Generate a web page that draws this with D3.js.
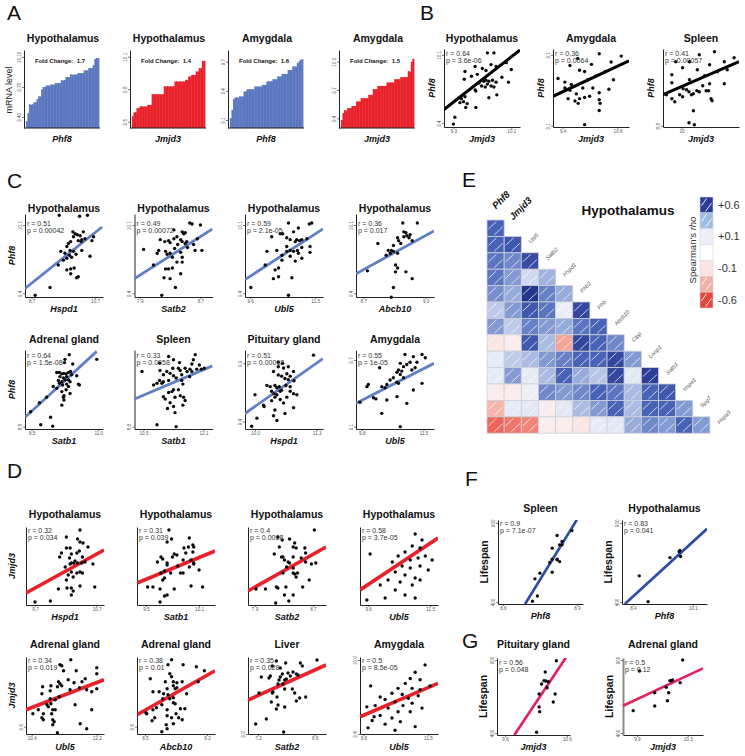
<!DOCTYPE html>
<html><head><meta charset="utf-8">
<script src="https://cdn.jsdelivr.net/npm/d3@7"></script>
<style>body{margin:0;background:#fff}svg{display:block}</style>
</head><body>
<script>
// ---------------- DATA ----------------
// Panel A: sorted mRNA levels
const aTitles = ["Hypothalamus","Hypothalamus","Amygdala","Amygdala"];
const aGenes = ["Phf8","Jmjd3","Phf8","Jmjd3"];
const aFold = ["1.7","1.4","1.6","1.5"];
const aTicks = [["9.40","9.75","10.10"],["9.5","9.8","10.1"],["9.1","9.4","9.7"],["9.4","9.7","10.0"]];
const aDomains = [[9.27,10.18],[9.442,10.162],[9.018,9.82],[9.297,10.124]];
const aPhf8Hyp = [9.345,9.443,9.54,9.54,9.54,9.567,9.567,9.607,9.637,9.637,9.715,9.747,9.747,9.762,9.762,9.762,9.773,9.773,9.773,9.793,9.793,9.793,9.793,9.824,9.824,9.824,9.863,9.863,9.863,9.89,9.89,9.89,9.89,9.89,9.91,9.91,9.91,9.91,9.94,9.94,9.94,9.968,9.968,9.968,9.995,10.073,10.085,10.085];
const aJmjd3Hyp = [9.546,9.583,9.583,9.624,9.624,9.638,9.638,9.638,9.638,9.638,9.654,9.654,9.654,9.753,9.753,9.753,9.753,9.753,9.753,9.753,9.753,9.823,9.823,9.823,9.823,9.823,9.823,9.823,9.869,9.869,9.869,9.869,9.869,9.869,9.869,9.885,9.885,9.915,9.915,9.931,9.931,9.931,9.962,9.962,9.993,9.993,10.06,10.06];
const aPhf8Amy = [9.117,9.203,9.313,9.329,9.329,9.329,9.34,9.34,9.34,9.391,9.391,9.416,9.416,9.416,9.416,9.416,9.442,9.442,9.442,9.442,9.442,9.46,9.46,9.46,9.494,9.494,9.494,9.494,9.518,9.518,9.518,9.545,9.545,9.545,9.573,9.573,9.573,9.573,9.614,9.614,9.614,9.648,9.648,9.648,9.683,9.7,9.717,9.724];
const aJmjd3Amy = [9.38,9.453,9.481,9.481,9.506,9.506,9.506,9.53,9.53,9.53,9.576,9.576,9.576,9.612,9.612,9.612,9.612,9.612,9.647,9.647,9.647,9.707,9.707,9.707,9.742,9.742,9.742,9.742,9.742,9.742,9.777,9.777,9.777,9.777,9.777,9.813,9.813,9.813,9.813,9.835,9.835,9.835,9.835,9.835,9.894,9.894,9.997,10.029];

// Panel B: Phf8 vs Jmjd3
const bHyp = [[9.77,10.12],[9.86,10.12],[9.46,9.93],[9.6,9.98],[9.7,9.96],[9.75,9.94],[9.82,10.0],[9.89,9.98],[9.45,9.85],[9.55,9.88],[9.63,9.9],[9.75,9.84],[9.79,9.83],[9.84,9.84],[9.69,9.78],[9.74,9.77],[9.82,9.78],[9.86,9.77],[9.6,9.74],[9.46,9.67],[9.41,9.65],[9.44,9.62],[9.39,9.61],[9.49,9.6],[9.61,9.56],[9.79,9.66],[9.47,9.56],[9.32,9.46],[9.3,9.39],[9.65,9.81],[9.72,9.83],[9.77,9.8],[9.89,9.82],[9.61,9.73],[10.03,10.02],[10.1,9.95],[9.97,9.87],[9.9,9.69],[10.06,9.82]];
const bAmy = [[9.45,9.42],[9.56,9.4],[9.7,9.37],[9.77,9.33],[9.88,9.34],[9.52,9.33],[9.67,9.31],[9.74,9.29],[9.84,9.42],[9.99,9.35],[10.06,9.42],[10.2,9.32],[10.22,9.29],[10.2,9.23],[9.88,9.11],[10.41,9.41],[9.45,9.47],[9.59,9.45],[10.2,9.38],[9.3,9.5],[9.95,9.49],[10.12,9.52],[10.33,9.56],[10.51,9.49],[9.77,9.57],[10.03,9.62],[10.2,9.71],[9.73,9.67],[10.46,9.64],[10.68,9.69],[9.56,9.61],[9.88,9.56]];
const bSpl = [[9.8,9.07],[9.86,9.04],[9.96,9.11],[10.02,9.09],[10.1,9.16],[10.15,9.14],[10.2,9.11],[10.24,9.12],[10.31,9.15],[10.36,9.14],[10.5,9.15],[10.55,9.15],[10.6,9.07],[10.62,9.05],[10.24,8.95],[10.15,8.83],[10.26,8.81],[9.69,9.11],[10.03,9.17],[9.8,9.23],[10.16,9.26],[10.57,9.22],[10.87,9.22],[10.43,9.2],[10.36,9.51],[10.67,9.54],[10.16,9.44],[10.57,9.41],[10.87,9.44],[11.07,9.48],[10.32,9.36],[10.73,9.34],[10.02,9.38],[9.8,9.31],[10.47,9.3],[10.93,9.36],[9.88,9.44]];
const bFits = [[[9.17,9.54],[10.22,10.15]],[[9.19,9.35],[10.85,9.65]],[[9.62,9.11],[11.17,9.44]]];
const bStats = [["r = 0.64","p = 3.6e-06"],["r = 0.36","p = 0.0064"],["r = 0.41","p = 0.00057"]];
const bTitles = ["Hypothalamus","Amygdala","Spleen"];

// Panel C: Phf8 vs target genes
const cHypHspd1 = [[9.57,10.2],[10.21,10.19],[10.46,10.2],[10.0,10.03],[10.07,10.01],[10.14,10.0],[10.23,9.99],[10.33,10.03],[10.28,9.95],[10.17,9.94],[9.93,9.93],[9.86,9.91],[10.6,9.94],[10.65,9.98],[9.81,9.88],[9.91,9.84],[9.62,9.83],[9.75,9.81],[9.89,9.79],[10.02,9.83],[10.1,9.8],[10.28,9.84],[10.54,9.78],[9.96,9.77],[9.81,9.76],[9.7,9.74],[9.54,9.69],[9.81,9.64],[9.93,9.65],[10.04,9.66],[9.93,9.6],[10.12,9.56],[10.17,9.57],[9.28,9.46],[8.81,9.38],[10.26,9.93],[10.02,9.98],[10.38,9.96]];
const cHypSatb2 = [[8.56,10.12],[8.59,10.11],[8.7,10.1],[8.35,10.05],[8.46,10.03],[8.48,10.01],[8.5,10.02],[8.39,9.98],[8.35,9.96],[8.44,9.95],[8.28,9.94],[8.17,9.95],[8.23,9.93],[8.3,9.92],[8.46,9.93],[8.5,9.91],[8.52,9.93],[8.66,9.96],[8.61,9.9],[8.53,9.87],[8.4,9.9],[8.36,9.86],[8.24,9.83],[8.15,9.84],[8.13,9.81],[8.26,9.8],[8.3,9.81],[8.44,9.82],[8.33,9.77],[8.46,9.77],[8.46,9.72],[8.39,9.72],[8.63,9.84],[8.72,9.84],[7.95,9.85],[8.08,9.69],[8.24,9.65],[8.28,9.65],[8.33,9.66],[8.44,9.6],[8.22,9.56],[8.3,9.55],[8.37,9.46],[8.19,9.38]];
const cHypUbl5 = [[10.72,10.12],[11.33,10.11],[11.4,10.12],[11.01,10.07],[10.87,10.03],[10.55,10.01],[10.48,10.01],[10.23,9.98],[10.67,9.97],[10.77,9.95],[10.96,9.95],[11.04,9.94],[10.92,9.93],[11.11,9.95],[11.26,9.96],[11.35,9.88],[11.11,9.87],[10.98,9.84],[10.87,9.83],[10.77,9.84],[10.67,9.83],[10.53,9.79],[10.38,9.84],[10.09,9.83],[10.53,9.74],[10.92,9.73],[11.11,9.76],[11.35,9.82],[10.43,9.66],[10.33,9.64],[10.04,9.69],[10.28,9.55],[10.43,9.57],[10.82,9.56],[10.72,9.38],[9.62,9.46],[10.67,9.88],[10.77,9.78],[11.01,9.81]];
const cHypAbcb10 = [[9.08,10.12],[9.22,10.12],[9.09,10.03],[9.11,10.02],[9.03,9.97],[9.04,9.94],[9.09,9.98],[9.12,9.99],[9.14,9.97],[9.17,9.94],[9.06,9.91],[8.99,9.89],[8.97,9.84],[8.94,9.84],[8.96,9.81],[8.99,9.83],[9.03,9.81],[8.92,9.79],[9.01,9.69],[9.03,9.66],[9.01,9.62],[9.11,9.62],[9.17,9.55],[8.99,9.46],[8.97,9.36],[9.15,10.0],[8.74,9.63],[8.84,9.91]];
const cAdrSatb1 = [[9.91,10.34],[10.94,10.24],[9.75,10.24],[10.04,10.14],[9.73,10.17],[9.44,9.96],[9.54,9.96],[9.63,9.93],[9.71,9.94],[9.79,9.93],[9.88,9.96],[9.96,9.98],[9.56,9.87],[9.69,9.84],[9.81,9.87],[10.0,9.91],[10.19,9.89],[9.5,9.79],[9.63,9.76],[9.75,9.8],[9.88,9.8],[9.94,9.76],[9.54,9.73],[9.66,9.69],[9.81,9.71],[10.25,9.71],[10.29,9.69],[9.31,9.66],[9.44,9.62],[9.88,9.66],[9.79,9.59],[9.63,9.55],[9.94,9.51],[9.71,9.46],[9.06,9.43],[9.71,9.37],[9.63,9.26],[8.79,9.31],[8.46,9.12],[9.21,9.0],[8.84,8.84],[9.29,8.81],[9.69,9.43]];
const cSplSatb1 = [[11.17,10.3],[11.3,10.23],[11.88,10.34],[11.83,10.23],[10.93,10.16],[11.46,10.17],[11.61,10.05],[11.74,10.03],[11.99,10.12],[11.79,10.14],[11.43,10.05],[11.48,10.0],[11.28,10.05],[11.12,9.98],[10.94,10.0],[11.03,9.91],[11.21,9.94],[11.3,9.89],[11.52,9.91],[11.66,9.98],[11.79,9.98],[12.04,10.03],[12.12,10.05],[11.92,10.03],[11.73,9.87],[10.93,9.79],[11.03,9.76],[10.99,9.73],[10.86,9.73],[11.17,9.79],[11.37,9.84],[11.52,9.79],[11.55,9.71],[11.3,9.59],[11.43,9.59],[11.17,9.53],[11.26,9.55],[11.03,9.44],[11.08,9.39],[11.34,9.43],[11.48,9.46],[11.57,9.43],[11.61,9.36],[11.21,9.31],[11.3,9.23],[11.55,9.26],[11.14,9.19],[11.34,9.1],[10.86,8.84],[11.37,8.8],[10.77,9.69],[10.46,9.98]];
const cPitHspd1 = [[11.23,9.97],[10.49,9.91],[10.58,9.9],[10.49,9.87],[10.6,9.86],[10.7,9.87],[10.81,9.83],[10.39,9.83],[10.67,9.81],[10.49,9.8],[10.56,9.79],[10.63,9.77],[10.74,9.79],[10.7,9.76],[10.82,9.75],[10.65,9.71],[10.25,9.71],[10.32,9.7],[10.42,9.71],[10.46,9.69],[10.51,9.7],[10.74,9.7],[10.56,9.67],[10.81,9.64],[10.88,9.63],[10.53,9.66],[10.35,9.66],[10.4,9.64],[10.46,9.63],[10.42,9.61],[10.74,9.66],[10.67,9.61],[10.53,9.59],[10.0,9.63],[10.18,9.54],[10.19,9.53],[10.81,9.52],[10.42,9.5],[10.63,9.47],[10.39,9.45],[10.46,9.41],[10.04,9.43],[9.93,9.36],[10.6,9.56],[10.35,9.58]];
const cAmyUbl5 = [[11.46,9.75],[11.55,9.72],[11.22,9.73],[10.99,9.75],[11.32,9.68],[11.13,9.68],[10.86,9.67],[11.04,9.66],[10.95,9.64],[11.18,9.61],[11.27,9.63],[10.9,9.6],[10.81,9.61],[10.77,9.59],[10.86,9.57],[10.67,9.54],[10.58,9.52],[10.77,9.5],[10.81,9.49],[10.95,9.54],[10.49,9.48],[10.35,9.46],[10.44,9.45],[11.22,9.43],[11.46,9.49],[10.77,9.37],[10.49,9.34],[11.04,9.31],[10.35,9.22],[10.86,9.1],[9.98,9.48],[9.94,9.46],[9.75,9.32],[10.29,9.63],[10.12,9.36],[10.19,9.35]];
const cTitles = ["Hypothalamus","Hypothalamus","Hypothalamus","Hypothalamus","Adrenal gland","Spleen","Pituitary gland","Amygdala"];
const cXLabels = ["Hspd1","Satb2","Ubl5","Abcb10","Satb1","Satb1","Hspd1","Ubl5"];
const cStats = [["r = 0.51","p = 0.00042"],["r = 0.49","p = 0.00072"],["r = 0.59","p = 2.1e-05"],["r = 0.36","p = 0.017"],["r = 0.64","p = 1.5e-08"],["r = 0.33","p = 0.0058"],["r = 0.51","p = 0.00018"],["r = 0.55","p = 1e-05"]];
const cFits = [[[8.49,9.45],[10.92,10.08]],[[7.83,9.55],[8.86,10.06]],[[9.45,9.54],[11.73,10.06]],[[8.63,9.6],[9.38,10.04]],[[8.25,9.0],[10.94,10.41]],[[10.26,9.39],[12.34,10.1]],[[9.79,9.47],[11.43,9.94]],[[9.64,9.31],[11.79,9.67]]];
const cXDomains = [[8.49,10.95],[7.83,8.86],[9.45,11.73],[8.63,9.38],[8.25,11.175],[10.26,12.34],[9.79,11.43],[9.64,11.79]];
const cYDomains = [[9.362,10.213],[9.362,10.213],[9.362,10.213],[9.362,10.213],[8.75,10.44],[8.75,10.44],[9.337,10.014],[9.079,9.79]];
const cXTicks = [["8.7","10.7"],["7.9","8.7"],["9.6","11.5"],["8.7","9.3"],["8.5","11.0"],["10.5","12.1"],["10.0","11.3"],["9.8","11.5"]];
const cYTicks = [["9.4","10.1"],["9.4","10.1"],["9.4","10.1"],["9.4","10.1"],["8.8"],["8.8"],["9.4","9.9"],["9.1","9.7"]];

// Panel D: Jmjd3 vs target genes
const dHypHspd1 = [[10.43,10.05],[10.21,9.98],[10.39,9.96],[10.43,9.93],[10.21,9.87],[10.27,9.87],[10.13,9.82],[10.1,9.78],[10.29,9.81],[10.56,9.88],[10.26,9.77],[10.38,9.82],[10.47,9.78],[10.35,9.74],[10.29,9.72],[10.27,9.71],[10.33,9.72],[10.39,9.72],[10.46,9.72],[10.51,9.73],[10.64,9.71],[10.19,9.68],[10.29,9.63],[10.38,9.62],[10.43,9.63],[10.47,9.62],[10.24,9.6],[10.32,9.58],[10.21,9.55],[10.08,9.46],[10.43,9.49],[10.22,9.47],[10.29,9.47],[10.32,9.44],[10.67,9.48],[10.29,9.4],[9.7,9.33],[9.95,9.34],[10.42,9.84],[10.48,9.92]];
const dHypSatb1 = [[9.76,10.05],[9.79,9.96],[9.74,9.93],[9.99,9.97],[9.93,9.87],[9.98,9.88],[10.03,9.9],[10.04,9.88],[9.95,9.82],[9.82,9.81],[9.8,9.78],[9.67,9.78],[9.69,9.76],[9.63,9.73],[9.74,9.72],[9.74,9.7],[9.92,9.75],[10.01,9.75],[10.04,9.72],[10.04,9.71],[9.99,9.68],[9.86,9.69],[10.1,9.65],[9.71,9.64],[9.67,9.62],[9.78,9.62],[9.89,9.62],[9.92,9.62],[9.71,9.57],[9.69,9.55],[9.52,9.48],[9.58,9.48],[9.66,9.46],[9.82,9.46],[10.01,9.49],[10.14,9.48],[9.74,9.4],[9.71,9.39],[9.66,9.33],[9.85,9.8],[10.03,9.83]];
const dHypSatb2 = [[8.72,10.05],[8.22,9.98],[8.28,9.95],[8.38,9.96],[8.45,9.92],[8.43,9.88],[8.47,9.87],[8.59,9.87],[8.6,9.82],[8.24,9.88],[8.17,9.81],[8.27,9.78],[8.29,9.78],[8.31,9.75],[8.36,9.73],[8.43,9.78],[8.54,9.77],[8.6,9.73],[8.68,9.71],[8.74,9.72],[8.38,9.72],[8.34,9.68],[8.43,9.62],[8.45,9.61],[8.49,9.62],[8.47,9.58],[8.29,9.62],[8.2,9.48],[8.22,9.47],[8.33,9.48],[8.56,9.48],[8.65,9.55],[7.92,9.46],[8.05,9.46],[8.19,9.32],[8.31,9.4],[8.43,9.4],[8.37,9.34],[8.43,9.67]];
const dHypUbl5 = [[11.04,10.01],[10.95,9.89],[11.19,9.87],[10.73,9.83],[10.52,9.79],[10.89,9.75],[11.13,9.77],[11.35,9.79],[10.34,9.73],[10.64,9.69],[10.89,9.67],[11.19,9.69],[11.44,9.65],[10.43,9.63],[10.73,9.6],[11.04,9.57],[10.21,9.55],[10.58,9.53],[10.95,9.5],[11.19,9.55],[9.97,9.5],[10.43,9.45],[10.73,9.4],[10.12,9.37],[11.04,9.37],[9.66,9.81],[9.56,9.35],[11.25,9.95],[11.56,9.75]];
const dAdrUbl5 = [[11.48,10.27],[11.18,10.22],[11.23,10.21],[11.28,10.16],[12.2,10.19],[12.2,10.13],[11.63,10.16],[11.88,10.08],[11.79,10.05],[11.57,10.04],[11.41,10.07],[11.14,10.05],[11.18,10.03],[11.23,10.01],[11.11,10.0],[10.93,10.01],[10.7,10.0],[10.68,9.93],[10.91,9.96],[11.46,9.97],[11.72,9.99],[11.92,9.97],[12.2,9.98],[12.06,9.95],[11.16,9.9],[10.91,9.88],[11.05,9.87],[10.82,9.82],[10.86,9.8],[10.93,9.83],[10.58,9.77],[10.98,9.77],[11.05,9.77],[10.43,9.73],[10.72,9.73],[10.95,9.73],[11.6,9.82],[12.06,9.77],[10.68,9.69],[10.72,9.67],[10.98,9.67],[11.02,9.65],[10.98,9.62],[11.74,9.63],[11.92,9.58],[11.11,9.54]];
const dAdrAbcb10 = [[8.8,10.27],[8.76,10.22],[8.93,10.22],[9.08,10.2],[9.17,10.16],[8.56,10.08],[8.78,10.13],[8.8,10.1],[8.73,10.05],[8.82,10.05],[8.86,10.04],[8.92,10.05],[8.82,10.01],[8.84,9.98],[8.86,9.99],[8.75,9.98],[8.59,9.95],[8.66,9.95],[8.7,9.88],[8.76,9.92],[8.78,9.88],[8.82,9.89],[8.97,9.93],[9.1,10.05],[8.69,9.82],[8.63,9.79],[8.59,9.77],[8.75,9.77],[8.82,9.84],[8.84,9.83],[8.9,9.78],[8.95,9.78],[8.51,9.74],[8.52,9.73],[8.61,9.69],[8.58,9.66],[8.75,9.71],[8.85,9.73],[8.8,9.69],[8.88,9.69],[8.92,9.67],[8.82,9.63],[8.74,9.62],[8.69,9.55],[8.75,9.58],[8.71,9.93]];
const dLivSatb2 = [[8.97,9.94],[7.75,9.93],[8.03,9.91],[8.47,9.91],[8.53,9.88],[7.63,9.88],[7.87,9.86],[7.93,9.8],[8.1,9.81],[8.17,9.78],[8.25,9.82],[8.35,9.8],[8.4,9.79],[7.57,9.78],[7.53,9.76],[7.3,9.77],[7.83,9.74],[8.0,9.74],[8.05,9.75],[7.8,9.7],[7.95,9.7],[8.23,9.65],[8.0,9.65],[7.65,9.62],[7.63,9.61],[7.23,9.61],[8.3,9.61],[7.77,9.57],[8.45,9.56],[8.35,9.53],[8.63,9.57],[7.6,9.52],[7.8,9.49],[8.0,9.47],[7.75,9.45],[7.45,9.35],[7.13,9.3],[7.97,9.22],[7.87,9.77]];
const dAmyUbl5 = [[11.42,9.96],[11.16,9.9],[11.29,9.84],[11.03,9.85],[10.9,9.81],[10.71,9.77],[11.08,9.77],[11.29,9.76],[11.55,9.79],[10.55,9.73],[10.82,9.72],[10.98,9.69],[11.24,9.71],[10.37,9.68],[10.63,9.66],[10.84,9.63],[11.08,9.65],[10.11,9.63],[10.45,9.61],[10.71,9.58],[10.24,9.55],[10.55,9.53],[10.03,9.51],[10.37,9.48],[10.77,9.5],[11.03,9.58],[9.92,9.45],[10.63,9.43],[11.16,9.46],[11.34,9.61],[9.99,9.79],[9.89,9.62],[10.08,9.54],[10.24,9.7]];
const dTitles = ["Hypothalamus","Hypothalamus","Hypothalamus","Hypothalamus","Adrenal gland","Adrenal gland","Liver","Amygdala"];
const dXLabels = ["Hspd1","Satb1","Satb2","Ubl5","Ubl5","Abcb10","Satb2","Ubl5"];
const dStats = [["r = 0.32","p = 0.034"],["r = 0.31","p = 0.039"],["r = 0.4","p = 0.0068"],["r = 0.58","p = 3.7e-05"],["r = 0.34","p = 0.019"],["r = 0.38","p = 0.01"],["r = 0.35","p = 0.028"],["r = 0.5","p = 8.5e-05"]];
const dFits = [[[9.554,9.42],[10.82,9.85]],[[9.40,9.52],[10.28,9.84]],[[7.81,9.44],[8.88,9.88]],[[9.35,9.45],[11.74,9.97]],[[10.24,9.77],[12.4,10.07]],[[8.41,9.72],[9.29,10.16]],[[6.9,9.54],[9.24,9.89]],[[9.71,9.54],[11.76,9.81]]];
const dXDomains = [[9.554,10.82],[9.40,10.28],[7.81,8.88],[9.35,11.74],[10.24,12.4],[8.41,9.29],[6.9,9.24],[9.71,11.76]];
const dYDomains = [[9.3,10.08],[9.3,10.08],[9.3,10.08],[9.3,10.08],[9.527,10.297],[9.527,10.297],[9.2,9.97],[9.4,10.024]];
const dXTicks = [["9.7","10.7"],["9.5","10.1"],["7.9","8.7"],["9.6","11.5"],["10.4","12.2"],["8.5","9.2"],["7.2","8.9"],["9.8","11.5"]];
const dYTicks = [[],[],[],[],["9.6"],["9.6"],["9.2"],["9.4","10.0"]];

// Panel E: Spearman's rho (lower triangle)
const genes = ["Phf8","Jmjd3","Ubl5","Satb2","Hspd1","Phb2","Phb","Abcb10","Clpp","Lonp1","Satb1","Hspe1","Spg7","Hspa9"];
const rho = [
 [0.5],
 [0.5,0.55],
 [0.45,0.4,0.6],
 [0.45,0.35,0.15,0.28],
 [0.38,0.3,0.72,0.42,0.3],
 [0.2,0.35,0.55,0.45,0.06,0.62],
 [0.35,0.2,0.42,0.35,0.3,0.45,0.5],
 [-0.08,-0.05,0.55,0.25,-0.3,0.62,0.5,0.4],
 [0.08,0.2,0.25,0.35,0.42,0.5,0.5,0.62,0.35],
 [0.08,0.35,0.08,0.25,0.5,0.3,0.22,0.62,0.1,0.66],
 [-0.05,-0.05,0.05,0.4,0.35,0.4,0.5,0.45,0.25,0.5,0.55],
 [-0.25,0.08,0.1,-0.05,0.1,0.25,0.35,0.5,0.25,0.5,0.5,0.35],
 [-0.5,-0.45,-0.4,-0.05,-0.05,-0.08,0.08,0.1,0.3,0.4,0.35,0.5,0.35]
];
const legendVals = [0.6,0.35,0.1,0,-0.1,-0.35,-0.6];
const legendLabels = [["+0.6",0],["+0.1",2],["-0.1",4],["-0.6",6]];

// Panels F, G: lifespan
const fSpl = [[8.72,404],[8.74,438],[8.73,546],[8.75,582],[8.79,649],[8.8,670],[8.8,588],[8.8,740],[8.82,820],[8.82,670],[8.82,666],[8.83,655],[8.83,761],[8.84,782],[8.84,761],[8.88,851]];
const fHyp = [[8.58,565],[8.83,402],[9.45,680],[9.71,718],[9.73,725],[9.75,687]];
const gPit = [[10.43,895],[10.25,818],[10.26,756],[10.3,751],[10.19,736],[10.23,758],[10.28,710],[10.15,667],[10.41,667],[10.38,612],[10.15,578],[10.16,546],[10.11,405]];
const gAdr = [[9.87,553],[9.92,825],[10.04,676],[10.04,585],[10.13,713],[10.14,621],[10.15,676],[10.16,758],[10.17,758],[10.18,763],[10.24,745],[10.26,900]];
const fgTitles = ["Spleen","Hypothalamus","Pituitary gland","Adrenal gland"];
const fgXLabels = ["Phf8","Phf8","Jmjd3","Jmjd3"];
const fgStats = [["r = 0.9","p = 7.1e-07"],["r = 0.83","p = 0.041"],["r = 0.56","p = 0.048"],["r = 0.5","p = 0.12"]];
const fgFits = [[[8.69,387],[8.9,919]],[[8.17,387],[10.5,862]],[[9.75,386],[10.6,927]],[[9.79,587],[10.42,843]]];
const fgXDomains = [[8.58,8.925],[8.09,10.5],[9.47,10.65],[9.79,10.42]];
const fgYDomains = [[387,918],[387,918],[386,914],[386,914]];
const fgXTicks = [["8.6","8.9"],["8.4","10.1"],["9.6","10.6"],["9.9","10.3"]];
const fgYTicks = [["400","900"],["400","900"],["400","900"],["400","900"]];

// ---------------- DRAW ----------------
const FONT = '"Liberation Sans", Arial, Helvetica, sans-serif';
const svg = d3.select("body").append("svg").attr("width",745).attr("height",756)
  .style("font-family",FONT);
let cid = 0;

function txt(x,y,s,o){
  o = o || {};
  const t = svg.append("text").attr("x",x).attr("y",y).text(s)
    .attr("font-size",o.fs||10).attr("fill",o.fill||"#111")
    .attr("text-anchor",o.anchor||"start");
  if(o.bold) t.attr("font-weight","bold");
  if(o.italic) t.attr("font-style","italic");
  if(o.rot!==undefined) t.attr("transform",`rotate(${o.rot},${x},${y})`);
  if(o.pre) t.style("white-space","pre");
  return t;
}
function styleAxis(g){
  g.attr("font-family",FONT).attr("font-size",4.6);
  g.select(".domain").attr("stroke","#222").attr("stroke-width",1);
  g.selectAll(".tick line").attr("stroke","#222").attr("stroke-width",0.6);
  g.selectAll(".tick text").attr("fill","#555");
}
function fmt(list){ return d => list.find(s => +s === d); }
function yAxis(g, y, l, ticks){
  const ay = g.append("g").attr("transform",`translate(${l},0)`)
    .call(d3.axisLeft(y).tickValues(ticks.map(Number)).tickFormat(fmt(ticks)).tickSize(2).tickSizeOuter(0));
  styleAxis(ay);
  ay.selectAll(".tick text").attr("transform","rotate(-90)").attr("x",0).attr("y",-3.5).attr("dy",0).attr("text-anchor","middle");
  return ay;
}

// Panel letters
[["A",7,20],["B",420,20],["C",7,188],["D",7,478],["E",462,187],["F",465,486],["G",462,648]]
  .forEach(d => txt(d[1],d[2],d[0],{fs:21}));

// ---- Panel A ----
const aLefts = [24,130,228,339];
const aVals = [aPhf8Hyp,aJmjd3Hyp,aPhf8Amy,aJmjd3Amy];
const aColors = ["#5b77bf","#e8212a","#5b77bf","#e8212a"];
aVals.forEach((vals,i) => {
  const l = aLefts[i], t = 50, h = 78, w = 76;
  const g = svg.append("g");
  const x = d3.scaleBand().domain(d3.range(vals.length)).range([l+2, l+w-1]);
  const y = d3.scaleLinear().domain(aDomains[i]).range([t+h, t]);
  g.selectAll("rect").data(vals).join("rect")
    .attr("x",(d,j)=>x(j)).attr("width",x.bandwidth()+0.25)
    .attr("y",d=>y(d)).attr("height",d=>y(aDomains[i][0])-y(d))
    .attr("fill",aColors[i]).attr("stroke",aColors[i]).attr("stroke-width",0.2);
  yAxis(g, y, l, aTicks[i]);
  g.append("line").attr("x1",l).attr("x2",l+w).attr("y1",y(aDomains[i][0])).attr("y2",y(aDomains[i][0]))
    .attr("stroke","#222").attr("stroke-width",1);
  txt(l+39, 41.5, aTitles[i], {fs:10.5, bold:true, anchor:"middle"});
  txt(l+38, 141.5, aGenes[i], {fs:9, bold:true, italic:true, anchor:"middle"});
  txt(l+11, 63, "Fold Change:  " + aFold[i], {fs:6, bold:true, pre:true});
});
txt(12, 90, "mRNA level", {fs:9, anchor:"middle", rot:-90, fill:"#222"});

// ---- Scatter helper ----
function scatter(p){
  const g = svg.append("g");
  const x = d3.scaleLinear().domain(p.xd).range([p.l, p.l+p.w]);
  const y = d3.scaleLinear().domain(p.yd).range([p.t+p.h, p.t]);
  const id = "cp" + (cid++);
  g.append("clipPath").attr("id",id).append("rect").attr("x",p.l).attr("y",p.t).attr("width",p.w).attr("height",p.h);
  const ax = g.append("g").attr("transform",`translate(0,${p.t+p.h})`)
    .call(d3.axisBottom(x).tickValues(p.xt.map(Number)).tickFormat(fmt(p.xt)).tickSize(2).tickSizeOuter(0).tickPadding(1));
  styleAxis(ax);
  const ay = yAxis(g, y, p.l, p.yt);
  if(p.yAxisGrey) ay.select(".domain").attr("stroke","#8a8a8a").attr("stroke-width",2);
  g.append("line").attr("clip-path",`url(#${id})`)
    .attr("x1",x(p.fit[0][0])).attr("y1",y(p.fit[0][1]))
    .attr("x2",x(p.fit[1][0])).attr("y2",y(p.fit[1][1]))
    .attr("stroke",p.lc).attr("stroke-width",p.lw);
  g.append("g").selectAll("circle").data(p.pts).join("circle")
    .attr("cx",d=>x(d[0])).attr("cy",d=>y(d[1])).attr("r",p.r||1.7).attr("fill","#0d0d0d");
  txt(p.l+2, p.t+p.sy, p.st[0], {fs:7, fill:"#333"});
  txt(p.l+2, p.t+p.sy+7.8, p.st[1], {fs:7, fill:"#333"});
  txt(p.l+p.w/2, p.t-p.ty, p.title, {fs:10.5, bold:true, anchor:"middle"});
  txt(p.l+p.w/2, p.t+p.h+p.xly, p.xl, {fs:p.xlfs||9, bold:true, italic:true, anchor:"middle"});
  if(p.yl) txt(p.l-p.yld, p.t+p.h/2, p.yl, {fs:p.ylfs||9, bold:true, italic:p.ylit!==false, anchor:"middle", rot:-90});
}

// ---- Panel B ----
const bLefts = [444,553,663];
const bPts = [bHyp,bAmy,bSpl];
const bXD = [[9.17,10.22],[9.19,10.85],[9.62,11.17]];
const bYD = [[9.36,10.16],[9.09,9.75],[8.787,9.567]];
const bXT = [["9.3","10.1"],["9.4","10.6"],["10"]];
const bYT = [["9.4","10.1"],["9.1","9.7"],["8.8"]];
bPts.forEach((pts,i) => scatter({l:bLefts[i], t:49, w:76, h:78, xd:bXD[i], yd:bYD[i], xt:bXT[i], yt:bYT[i],
  pts, fit:bFits[i], st:bStats[i], title:bTitles[i], xl:"Jmjd3", yl:"Phf8", yld:9,
  lc:"#000", lw:3, ty:7.5, sy:6.5, xly:14.5}));

// ---- Panel C ----
const cLefts = [25,134.5,245,356];
const cPts = [cHypHspd1,cHypSatb2,cHypUbl5,cHypAbcb10,cAdrSatb1,cSplSatb1,cPitHspd1,cAmyUbl5];
const cRows = [{t:214,h:83,ty:2.3,sy:11.5,xly:15},{t:350,h:79,ty:7,sy:7.5,xly:15}];
cPts.forEach((pts,i) => {
  const r = cRows[Math.floor(i/4)], c = i%4;
  scatter({l:cLefts[c], t:r.t, w:78, h:r.h, xd:cXDomains[i], yd:cYDomains[i], xt:cXTicks[i], yt:cYTicks[i],
    pts, fit:cFits[i], st:cStats[i], title:cTitles[i], xl:cXLabels[i], yl:c===0?"Phf8":null, yld:10,
    lc:"#5f7fc6", lw:2.8, ty:r.ty, sy:r.sy, xly:r.xly});
});

// ---- Panel D ----
const dLefts = [26,137,248,360];
const dPts = [dHypHspd1,dHypSatb1,dHypSatb2,dHypUbl5,dAdrUbl5,dAdrAbcb10,dLivSatb2,dAmyUbl5];
const dRows = [{t:527,h:78,ty:9,sy:5.5,xly:15},{t:657,h:77,ty:9,sy:5.5,xly:16}];
dPts.forEach((pts,i) => {
  const r = dRows[Math.floor(i/4)], c = i%4;
  scatter({l:dLefts[c], t:r.t, w:78, h:r.h, xd:dXDomains[i], yd:dYDomains[i], xt:dXTicks[i], yt:dYTicks[i],
    pts, fit:dFits[i], st:dStats[i], title:dTitles[i], xl:dXLabels[i], yl:c===0?"Jmjd3":null, yld:11,
    lc:"#e8202a", lw:3.6, ty:r.ty, sy:r.sy, xly:r.xly});
});

// ---- Panels F, G ----
const fgGeom = [{l:498,t:520,w:85,h:84,ty:8,sy:5.5,xly:15},{l:622,t:520,w:85,h:84,ty:8,sy:5.5,xly:15},
                {l:497,t:658,w:73,h:77,ty:10,sy:6.5,xly:15},{l:623,t:658,w:80,h:77,ty:10,sy:6.5,xly:15}];
const fgPts = [fSpl,fHyp,gPit,gAdr];
const fgColors = ["#2b4ea6","#2b4ea6","#e0245c","#e0245c"];
fgPts.forEach((pts,i) => {
  const q = fgGeom[i];
  scatter({l:q.l, t:q.t, w:q.w, h:q.h, xd:fgXDomains[i], yd:fgYDomains[i], xt:fgXTicks[i], yt:fgYTicks[i],
    pts, fit:fgFits[i], st:fgStats[i], title:fgTitles[i], xl:fgXLabels[i], yl:"Lifespan", yld:10, ylfs:10.5, ylit:false,
    lc:fgColors[i], lw:2.7, ty:q.ty, sy:q.sy, xly:q.xly, yAxisGrey:i===3});
});

// ---- Panel E ----
const cw = 17.15, ch = 16.4, hx = 487, hy = 220;
const xb = d3.scaleBand().domain(d3.range(genes.length)).range([hx, hx+genes.length*cw]);
const yb = d3.scaleBand().domain(d3.range(genes.length)).range([hy, hy+genes.length*ch]);
const col = d3.scaleLinear().domain([-0.6,-0.3,-0.1,0,0.1,0.3,0.5,0.7])
  .range(["#e8483c","#f4a597","#fbe3df","#f6f5f8","#e3e8f5","#98acdc","#4862b6","#24358d"]).clamp(true);
const cells = rho.flatMap((row,r) => row.map((v,c) => ({r,c,v})));
const hm = svg.append("g");
hm.selectAll("rect").data(cells).join("rect")
  .attr("x",d=>xb(d.c)).attr("y",d=>yb(d.r)).attr("width",cw).attr("height",ch)
  .attr("fill",d=>col(d.v)).attr("stroke","#cfd2dc").attr("stroke-width",0.8);
const hatch = hm.append("g").attr("stroke","#fff").attr("stroke-width",0.9).attr("stroke-opacity",0.8);
cells.forEach(d => {
  const x0 = xb(d.c), y0 = yb(d.r);
  hatch.append("line").attr("x1",x0+1.5).attr("y1",y0+ch*0.55).attr("x2",x0+cw*0.55).attr("y2",y0+1.5);
  hatch.append("line").attr("x1",x0+cw*0.42).attr("y1",y0+ch-1.5).attr("x2",x0+cw-1.5).attr("y2",y0+ch*0.42);
});
genes.forEach((gname,i) => {
  const big = i < 2;
  const ax = xb(i) + (big ? 9 : 9.5), ay = yb(i) - (i===1 ? 16 : (big ? 10.5 : 9));
  txt(ax, ay, gname, {fs: big ? 9.5 : 5.6, bold: big, italic:true, fill: big ? "#111" : "#555", rot:-45});
});
txt(628, 215, "Hypothalamus", {fs:13.5, bold:true, anchor:"middle"});
// legend
const lcol = d3.scaleLinear().domain([-0.6,-0.35,-0.1,0,0.1,0.35,0.6])
  .range(["#e8463b","#f3b1a6","#fbe5e3","#ffffff","#eceff8","#9dbde2","#2b3d97"]);
const ly = d3.scaleBand().domain(d3.range(legendVals.length)).range([197,308]);
const lg = svg.append("g");
lg.selectAll("rect").data(legendVals).join("rect")
  .attr("x",700).attr("y",(d,i)=>ly(i)).attr("width",13).attr("height",ly.bandwidth())
  .attr("fill",d=>lcol(d)).attr("stroke","#d6d6dc").attr("stroke-width",0.6);
legendVals.forEach((v,i) => {
  if(Math.abs(v) < 0.3) return;
  const y0 = ly(i), b = ly.bandwidth();
  lg.append("line").attr("x1",701.5).attr("y1",y0+b*0.55).attr("x2",706.5).attr("y2",y0+1.5).attr("stroke","#fff").attr("stroke-width",0.9);
  lg.append("line").attr("x1",705.5).attr("y1",y0+b-1.5).attr("x2",711.5).attr("y2",y0+b*0.4).attr("stroke","#fff").attr("stroke-width",0.9);
});
legendLabels.forEach(d => txt(718, ly(d[1]) + ly.bandwidth()/2 + 3.8, d[0], {fs:11, fill:"#333"}));
const sp = svg.append("text").attr("transform","translate(696,250) rotate(-90)")
  .attr("text-anchor","middle").attr("font-size",9.5).attr("fill","#333");
sp.append("tspan").text("Spearman's ");
sp.append("tspan").attr("font-style","italic").text("rho");
</script>
</body></html>
